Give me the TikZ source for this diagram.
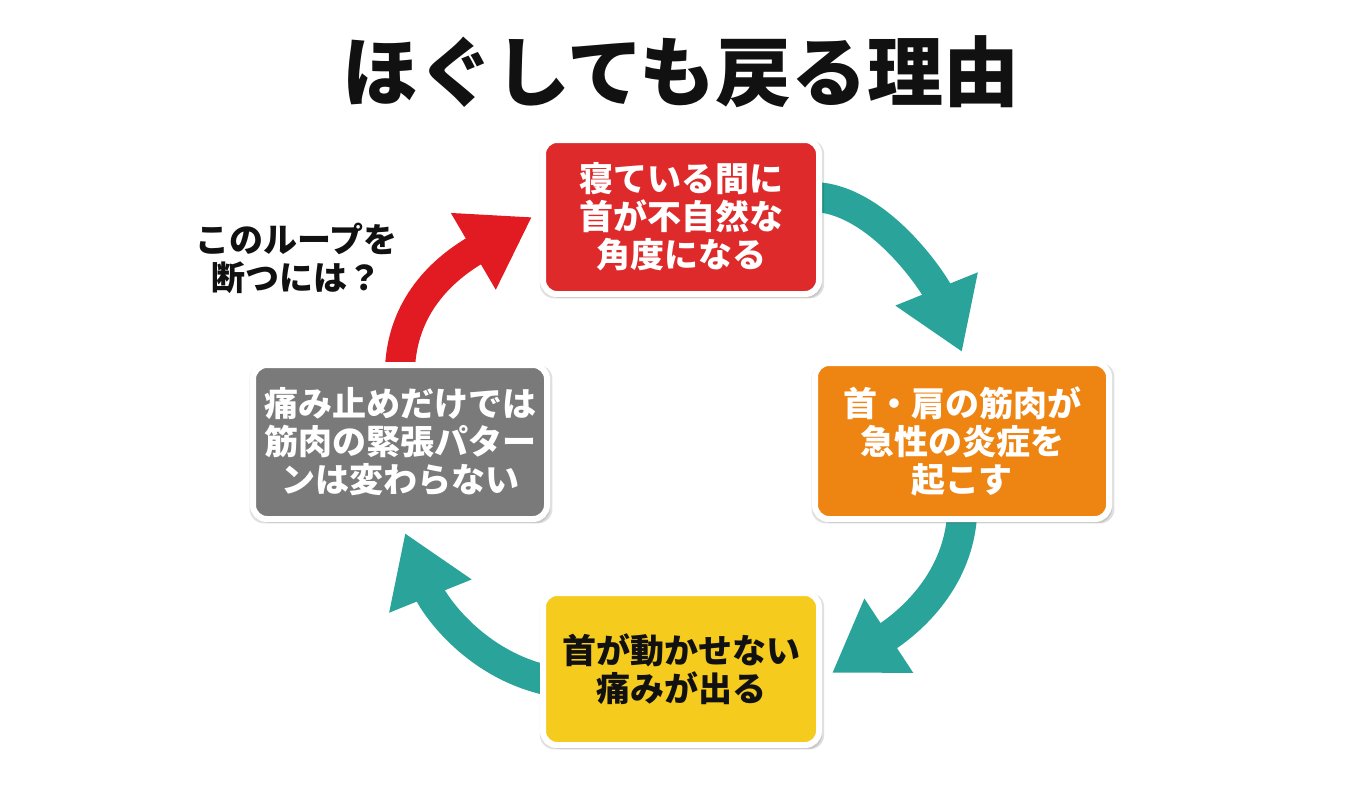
\documentclass[tikz,border=0pt]{standalone}
\usepackage{fontspec}
\setmainfont{Noto Sans CJK JP}
\usetikzlibrary{arrows.meta,shadows,backgrounds}
\definecolor{ink}{HTML}{111111}
\definecolor{alarm}{HTML}{DE2A2B}
\definecolor{ember}{HTML}{EE8412}
\definecolor{amber}{HTML}{F5CB1D}
\definecolor{slate}{HTML}{7A7A7A}
\definecolor{loopteal}{HTML}{2AA39A}
\definecolor{loopred}{HTML}{E21A22}
\tikzset{
  every picture/.style={text=ink},
  stage/.style={draw=white, line width=3pt, rounded corners=7pt, align=center, text=white,
    font=\fontsize{17pt}{19pt}\selectfont\bfseries,
    general shadow={fill=black, opacity=0.12, shadow scale=1.03, shadow xshift=0.5pt, shadow yshift=-1pt},
    drop shadow={opacity=0.25, shadow xshift=1.5pt, shadow yshift=-2pt}},
  heading/.style={font=\fontsize{38pt}{40pt}\selectfont\bfseries},
  ask/.style={align=center, font=\fontsize{17pt}{19pt}\selectfont\bfseries},
  turn/.style={line width=15pt, draw=loopteal, -{Triangle[length=34pt, width=42pt]}},
}

\begin{document}
\begin{tikzpicture}[x=0.5pt, y=-0.5pt]
\useasboundingbox (0,0) rectangle (1360,784);
\node[heading] (title) at (681,72) {ほぐしても戻る理由};
\node[stage, fill=alarm, minimum width=138pt, minimum height=77pt] (sleep) at (681,217) {寝ている間に\\首が不自然な\\角度になる};
\node[stage, fill=ember, minimum width=147pt, minimum height=78pt] (inflame) at (962,441) {首・肩の筋肉が\\急性の炎症を\\起こす};
\node[stage, fill=amber, text=ink, minimum width=138pt, minimum height=76pt] (pain) at (681,669) {首が動かせない\\痛みが出る};
\node[stage, fill=slate, minimum width=147pt, minimum height=77pt] (pill) at (400,442) {痛み止めだけでは\\筋肉の緊張パター\\ンは変わらない};
\node[ask] (break) at (296,258) {このループを\\断つには？};
% the loop, behind the boxes
\begin{pgfonlayer}{background}
\draw[turn] ([xshift=-3.5pt, yshift=10pt]sleep.east) .. controls (880,200) and (935,285) .. ([yshift=4pt]inflame.north);
\draw[turn] ([yshift=3pt]inflame.south) .. controls (957,585) and (905,625) .. ([xshift=5pt, yshift=-2pt]pain.east);
\draw[turn] ([xshift=3pt, yshift=-5.5pt]pain.west) .. controls (470,662) and (432,600) .. ([xshift=2.5pt, yshift=-5.5pt]pill.south);
\draw[turn, draw=loopred] ([yshift=-3pt]pill.north) .. controls (403,300) and (450,265) .. ([xshift=-4pt]sleep.west);
\end{pgfonlayer}
\end{tikzpicture}
\end{document}
